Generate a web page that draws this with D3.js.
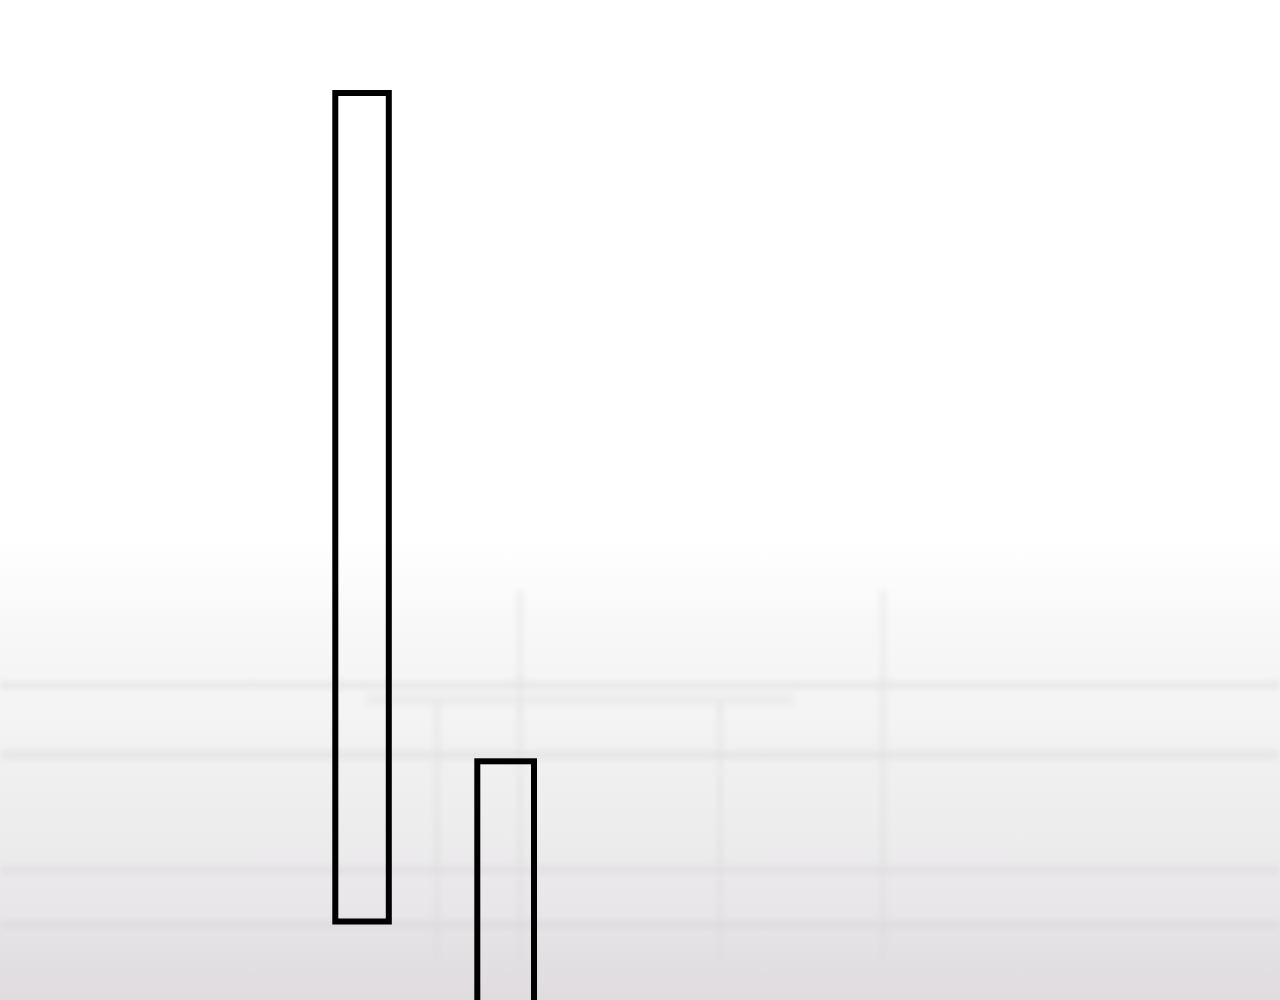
<!DOCTYPE html>
<html>
<head>
<meta charset="utf-8">
<script src="https://cdn.jsdelivr.net/npm/d3@7"></script>
<style>
  html, body { margin: 0; padding: 0; background: #fff; }
  svg { display: block; }
</style>
</head>
<body>
<svg id="chart" width="1280" height="1000"></svg>
<script>
// floating bars, in chart units (x 0..128, y 0..100)
const barNames = ['A', 'B']
const barX0 = [33.53, 47.73]
const barX1 = [38.88, 53.4]
const barLow = [7.85, -2]
const barHigh = [90.7, 23.87]

// faint background grid (chart units)
const hLineY = [31.5, 24.5, 13, 7.5]
const hLineX0 = [0, 0, 0, 0]
const hLineX1 = [128, 128, 128, 128]
const vLineX = [43.7, 52, 72, 88.3]
const vLineTop = [30, 41, 30, 41]
const vLineBottom = [4, 4, 4, 4]

const width = 1280
const height = 1000

const xScale = d3.scaleLinear().domain([0, 128]).range([0, width])
const yScale = d3.scaleLinear().domain([0, 100]).range([height, 0])

const svg = d3.select('#chart')
const defs = svg.append('defs')

const grad = defs.append('linearGradient')
  .attr('id', 'bg').attr('x1', 0).attr('y1', 0).attr('x2', 0).attr('y2', 1)
grad.selectAll('stop')
  .data([
    [0, '#ffffff'], [0.54, '#ffffff'], [0.62, '#f8f8f8'], [0.72, '#f3f3f3'],
    [0.82, '#eeedee'], [0.9, '#e9e7e9'], [1, '#dfdbde']
  ])
  .join('stop')
  .attr('offset', d => d[0])
  .attr('stop-color', d => d[1])

defs.append('filter').attr('id', 'blur')
  .attr('x', '-5%').attr('y', '-5%').attr('width', '110%').attr('height', '110%')
  .append('feGaussianBlur').attr('stdDeviation', 3.5)

svg.append('rect')
  .attr('width', width).attr('height', height)
  .attr('fill', 'url(#bg)')

const grid = svg.append('g').attr('filter', 'url(#blur)').attr('opacity', 0.5)

grid.selectAll('line.h')
  .data(hLineY)
  .join('line')
  .attr('class', 'h')
  .attr('x1', (d, i) => xScale(hLineX0[i]))
  .attr('x2', (d, i) => xScale(hLineX1[i]))
  .attr('y1', d => yScale(d))
  .attr('y2', d => yScale(d))
  .attr('stroke', '#d4d2d4')
  .attr('stroke-width', 6)

grid.append('line')
  .attr('x1', xScale(36.5)).attr('x2', xScale(79.5))
  .attr('y1', yScale(30)).attr('y2', yScale(30))
  .attr('stroke', '#e2e2e2').attr('stroke-width', 9)

grid.selectAll('line.v')
  .data(vLineX)
  .join('line')
  .attr('class', 'v')
  .attr('x1', d => xScale(d))
  .attr('x2', d => xScale(d))
  .attr('y1', (d, i) => yScale(vLineTop[i]))
  .attr('y2', (d, i) => yScale(vLineBottom[i]))
  .attr('stroke', '#d6d6d8')
  .attr('stroke-width', 4)

svg.append('g')
  .selectAll('rect')
  .data(barNames)
  .join('rect')
  .attr('x', (d, i) => xScale(barX0[i]))
  .attr('y', (d, i) => yScale(barHigh[i]))
  .attr('width', (d, i) => xScale(barX1[i]) - xScale(barX0[i]))
  .attr('height', (d, i) => yScale(barLow[i]) - yScale(barHigh[i]))
  .attr('fill', 'none')
  .attr('stroke', '#000')
  .attr('stroke-width', 6)
</script>
</body>
</html>
